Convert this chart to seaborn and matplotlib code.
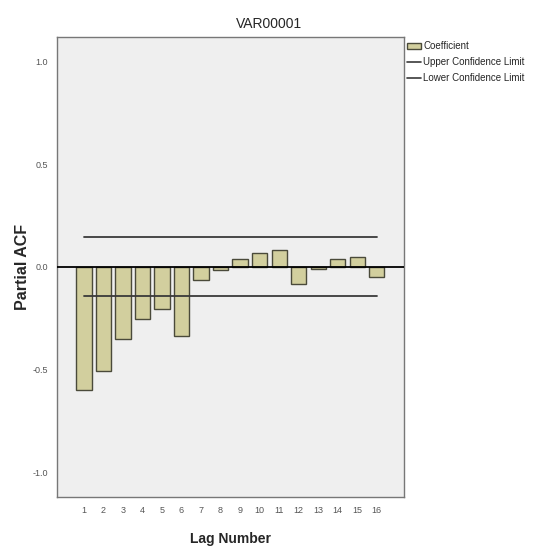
import pandas as pd
import matplotlib.pyplot as plt
import seaborn as sns
from matplotlib.patches import Patch
from matplotlib.lines import Line2D

# Partial ACF values
lags = list(range(1, 17))
pacf = [-0.60, -0.505, -0.348, -0.251, -0.202, -0.336, -0.065, -0.016,
        0.037, 0.070, 0.081, -0.085, -0.010, 0.041, 0.050, -0.047]
upper_limit = 0.145
lower_limit = -0.143
ytick_vals = [-1.0, -0.5, 0.0, 0.5, 1.0]

df = pd.DataFrame({"Lag": lags, "PACF": pacf})

sns.set_style("white")
plt.rcParams["font.family"] = ["Liberation Sans", "DejaVu Sans"]

fig = plt.figure(figsize=(5.38, 5.46), dpi=100)
ax = fig.add_axes([0.106, 0.09, 0.645, 0.842])
ax.set_facecolor("#efefef")

sns.barplot(data=df, x="Lag", y="PACF", color="#d2cf9e", saturation=1,
            width=0.78, edgecolor="#4a4a3a", linewidth=1.0, ax=ax)

# zero line and confidence limits
ax.axhline(0, color="black", lw=1.3, zorder=3)
ax.plot([0, len(lags) - 1], [upper_limit, upper_limit], color="#3a3a3a", lw=1.3, zorder=3)
ax.plot([0, len(lags) - 1], [lower_limit, lower_limit], color="#3a3a3a", lw=1.3, zorder=3)

ax.set_xlim(-1.38, len(lags) - 1 + 1.4)
ax.set_ylim(-1.117, 1.117)
ax.set_yticks(ytick_vals)
ax.set_yticklabels([f"{v:.1f}" for v in ytick_vals])
ax.tick_params(axis="both", labelsize=6.5, colors="#555555", length=3,
               direction="out", width=0.8)
for s in ax.spines.values():
    s.set_color("#777777")
    s.set_linewidth(1.0)

ax.set_xlabel("Lag Number", fontsize=10, fontweight="bold", labelpad=12)
ax.set_ylabel("Partial ACF", fontsize=11.5, fontweight="bold", labelpad=2)
fig.text(0.5, 0.956, "VAR00001", ha="center", va="center", fontsize=10)

handles = [
    Patch(facecolor="#d2cf9e", edgecolor="#4a4a3a", label="Coefficient"),
    Line2D([], [], color="#3a3a3a", lw=1.2, label="Upper Confidence Limit"),
    Line2D([], [], color="#3a3a3a", lw=1.2, label="Lower Confidence Limit"),
]
fig.legend(handles=handles, loc="upper left", bbox_to_anchor=(0.757, 0.924),
           frameon=False, fontsize=7, handlelength=1.4, handletextpad=0.25,
           labelspacing=0.6, borderaxespad=0, borderpad=0)

fig.savefig("out.png", dpi=100)
